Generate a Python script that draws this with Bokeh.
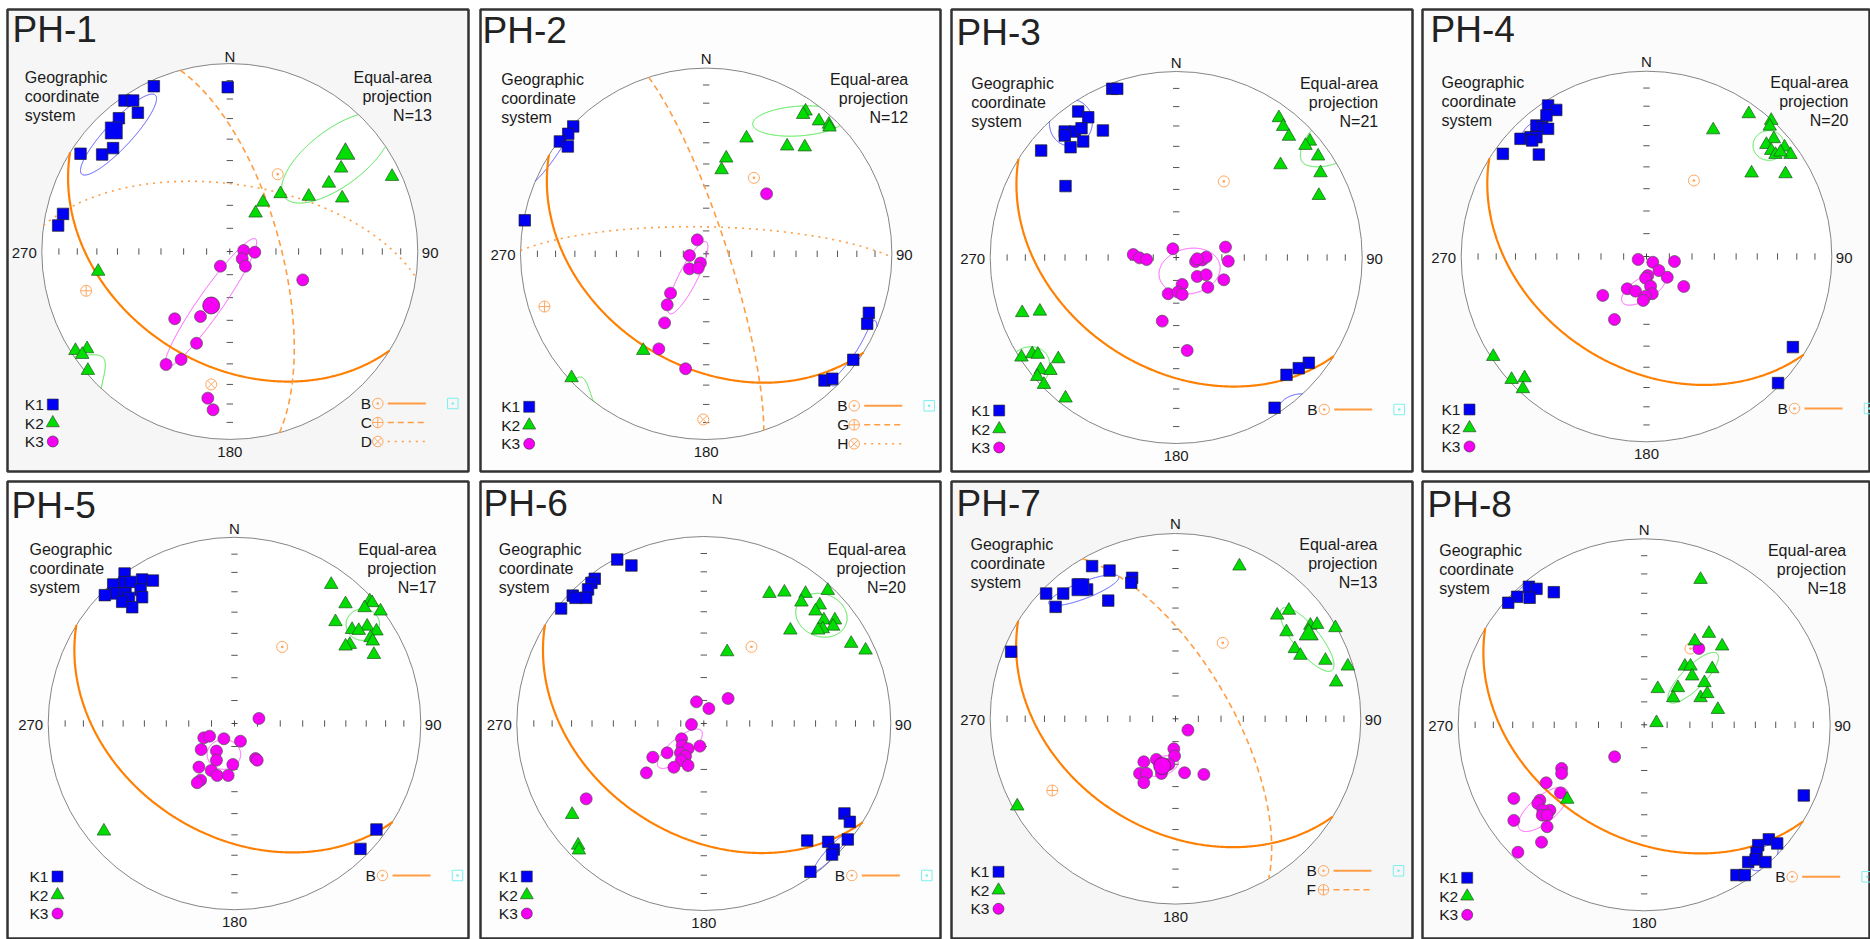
import math
import numpy as np
from bokeh.plotting import figure
from bokeh.layouts import gridplot
from bokeh.models import Range1d
from bokeh.core.properties import value
from bokeh.embed import file_html
from bokeh.resources import INLINE

# ---------------- DATA (equal-area projection, unit = primitive radius; x = east, y = north) ----------------
TITLES = ["PH-1", "PH-2", "PH-3", "PH-4", "PH-5", "PH-6", "PH-7", "PH-8"]
N_COUNTS = [13, 12, 21, 20, 17, 20, 13, 18]

# PH-1
PH1_K1_X = [-0.404, -0.011, -0.560, -0.514, -0.489, -0.590, -0.621, -0.679, -0.794, -0.887, -0.913]
PH1_K1_Y = [0.879, 0.874, 0.803, 0.803, 0.738, 0.709, 0.550, 0.516, 0.520, 0.200, 0.138]
PH1_K2_X = [0.592, 0.527, 0.863, 0.270, 0.420, 0.598, 0.177, 0.137, -0.700, -0.821, -0.759, -0.785, -0.755]
PH1_K2_Y = [0.443, 0.363, 0.399, 0.307, 0.293, 0.284, 0.262, 0.204, -0.106, -0.527, -0.518, -0.548, -0.633]
PH1_K3_X = [0.074, 0.133, 0.066, 0.083, -0.050, 0.388, -0.156, -0.293, -0.177, -0.259, -0.339, -0.117, -0.089]
PH1_K3_Y = [0.005, -0.004, -0.039, -0.078, -0.078, -0.151, -0.346, -0.358, -0.488, -0.574, -0.601, -0.780, -0.842]
PH1_MEAN_X = [-0.617, 0.615, -0.099]
PH1_MEAN_Y = [0.644, 0.520, -0.287]
PH1_ELL_X = [-0.592, 0.57, -0.101]
PH1_ELL_Y = [0.622, 0.50, -0.273]
PH1_ELL_A = [0.287, 0.35, 0.415]
PH1_ELL_B = [0.07, 0.15, 0.065]
PH1_ELL_ANG = [47, 37, 55]
PH1_POLE_NAMES = ["B", "C", "D"]
PH1_POLE_X = [0.255, -0.764, -0.099]
PH1_POLE_Y = [0.411, -0.209, -0.707]

# PH-2
PH2_K1_X = [-0.716, -0.743, -0.788, -0.745, -0.977, 0.876, 0.867, 0.792, 0.637, 0.679]
PH2_K1_Y = [0.686, 0.646, 0.605, 0.578, 0.180, -0.318, -0.377, -0.571, -0.682, -0.673]
PH2_K2_X = [0.535, 0.522, 0.607, 0.661, 0.664, 0.217, 0.436, 0.531, 0.108, 0.083, -0.339, -0.725]
PH2_K2_Y = [0.768, 0.750, 0.715, 0.697, 0.682, 0.623, 0.580, 0.575, 0.515, 0.452, -0.521, -0.668]
PH2_K3_X = [-0.048, -0.090, -0.031, -0.090, -0.043, 0.325, -0.192, -0.210, -0.224, -0.255, -0.111]
PH2_K3_Y = [0.075, -0.009, -0.050, -0.081, -0.077, 0.323, -0.212, -0.275, -0.372, -0.512, -0.619]
PH2_MEAN_X = []
PH2_MEAN_Y = []
PH2_ELL_X = [-0.829, 0.50, -0.099]
PH2_ELL_Y = [0.559, 0.715, -0.129]
PH2_ELL_A = [0.22, 0.25, 0.217]
PH2_ELL_B = [0.035, 0.08, 0.05]
PH2_ELL_ANG = [56, 4, 63]
PH2_POLE_NAMES = ["B", "G", "H"]
PH2_POLE_X = [0.257, -0.871, -0.016]
PH2_POLE_Y = [0.409, -0.284, -0.892]

# PH-3
PH3_K1_X = [-0.344, -0.317, -0.527, -0.473, -0.599, -0.545, -0.509, -0.599, -0.394, -0.500, -0.568, -0.726, -0.595,
            0.713, 0.659, 0.593, 0.529]
PH3_K1_Y = [0.907, 0.907, 0.785, 0.754, 0.677, 0.677, 0.695, 0.656, 0.683, 0.624, 0.593, 0.575, 0.384,
            -0.566, -0.595, -0.631, -0.808]
PH3_K2_X = [0.552, 0.575, 0.606, 0.719, 0.695, 0.763, 0.561, 0.776, 0.767, -0.828, -0.733, -0.832, -0.774, -0.744,
            -0.634, -0.729, -0.676, -0.747, -0.711, -0.595]
PH3_K2_Y = [0.751, 0.704, 0.651, 0.625, 0.602, 0.545, 0.498, 0.455, 0.333, -0.297, -0.289, -0.536, -0.518, -0.521,
            -0.545, -0.604, -0.608, -0.640, -0.683, -0.756]
PH3_K3_X = [-0.231, -0.197, -0.159, -0.018, 0.104, 0.140, 0.161, 0.113, 0.265, 0.280, 0.113, 0.161, 0.256, 0.032,
            0.170, -0.043, 0.009, 0.032, -0.075, 0.059]
PH3_K3_Y = [0.016, -0.002, -0.011, 0.047, -0.022, -0.013, 0.002, -0.007, 0.056, -0.020, -0.102, -0.093, -0.120,
            -0.145, -0.160, -0.195, -0.186, -0.199, -0.342, -0.500]
PH3_MEAN_X = []
PH3_MEAN_Y = []
PH3_ELL_X = [-0.566, -0.80, 0.072]
PH3_ELL_Y = [0.724, -0.60, -0.073]
PH3_ELL_A = [0.125, 0.13, 0.166]
PH3_ELL_B = [0.115, 0.11, 0.121]
PH3_ELL_ANG = [80, 45, 12]
PH3_POLE_NAMES = ["B"]
PH3_POLE_X = [0.256]
PH3_POLE_Y = [0.409]

# PH-4
PH4_K1_X = [-0.531, -0.487, -0.540, -0.594, -0.563, -0.531, -0.680, -0.626, -0.594, -0.617, -0.775, -0.581,
            0.790, 0.710]
PH4_K1_Y = [0.815, 0.791, 0.761, 0.707, 0.698, 0.689, 0.635, 0.644, 0.644, 0.626, 0.554, 0.550, -0.489, -0.683]
PH4_K2_X = [0.552, 0.673, 0.360, 0.665, 0.687, 0.647, 0.745, 0.673, 0.696, 0.777, 0.723, 0.567, 0.750,
            -0.827, -0.728, -0.658, -0.667]
PH4_K2_Y = [0.770, 0.734, 0.683, 0.703, 0.635, 0.604, 0.590, 0.572, 0.550, 0.550, 0.563, 0.450, 0.446,
            -0.540, -0.664, -0.655, -0.714]
PH4_K3_X = [-0.045, 0.034, 0.151, 0.067, 0.112, 0.007, -0.005, 0.022, 0.201, -0.104, -0.059, 0.031, -0.005, -0.018,
            -0.236, -0.173]
PH4_K3_Y = [-0.016, -0.031, -0.027, -0.076, -0.112, -0.103, -0.117, -0.160, -0.162, -0.174, -0.187, -0.201, -0.214,
            -0.237, -0.210, -0.340]
PH4_MEAN_X = []
PH4_MEAN_Y = []
PH4_ELL_X = [-0.617, 0.660, -0.014]
PH4_ELL_Y = [0.671, 0.599, -0.174]
PH4_ELL_A = [0.07, 0.085, 0.137]
PH4_ELL_B = [0.04, 0.08, 0.06]
PH4_ELL_ANG = [45, 0, 32]
PH4_POLE_NAMES = ["B"]
PH4_POLE_X = [0.256]
PH4_POLE_Y = [0.410]

# PH-5
PH5_K1_X = [-0.590, -0.496, -0.438, -0.651, -0.590, -0.558, -0.639, -0.585, -0.504, -0.696, -0.567, -0.496,
            -0.603, -0.549, 0.762, 0.676]
PH5_K1_Y = [0.805, 0.773, 0.767, 0.746, 0.758, 0.760, 0.698, 0.698, 0.719, 0.689, 0.674, 0.678, 0.653, 0.624,
            -0.569, -0.673]
PH5_K2_X = [0.519, 0.726, 0.739, 0.596, 0.698, 0.784, 0.542, 0.712, 0.631, 0.667, 0.762, 0.730, 0.742, 0.619,
            0.596, 0.748, -0.701]
PH5_K2_Y = [0.746, 0.657, 0.648, 0.642, 0.621, 0.603, 0.546, 0.522, 0.504, 0.499, 0.496, 0.460, 0.442, 0.424,
            0.415, 0.370, -0.578]
PH5_K3_X = [0.131, -0.165, -0.134, -0.057, 0.032, -0.179, -0.097, -0.097, 0.113, 0.122, -0.009, -0.191, -0.125,
            -0.093, -0.034, -0.182, -0.200]
PH5_K3_Y = [0.027, -0.077, -0.068, -0.082, -0.095, -0.140, -0.148, -0.197, -0.188, -0.197, -0.220, -0.234, -0.252,
            -0.279, -0.279, -0.304, -0.318]
PH5_MEAN_X = []
PH5_MEAN_Y = []
PH5_ELL_X = [-0.575, 0.689, -0.057]
PH5_ELL_Y = [0.720, 0.531, -0.166]
PH5_ELL_A = [0.06, 0.09, 0.09]
PH5_ELL_B = [0.05, 0.085, 0.08]
PH5_ELL_ANG = [0, 0, 0]
PH5_POLE_NAMES = ["B"]
PH5_POLE_X = [0.256]
PH5_POLE_Y = [0.411]

# PH-6
PH6_K1_X = [-0.463, -0.387, -0.583, -0.601, -0.619, -0.701, -0.686, -0.629, -0.763, 0.752, 0.781, 0.553, 0.665,
            0.770, 0.695, 0.686, 0.570]
PH6_K1_Y = [0.877, 0.845, 0.774, 0.752, 0.717, 0.684, 0.672, 0.672, 0.615, -0.481, -0.526, -0.626, -0.633,
            -0.620, -0.674, -0.701, -0.793]
PH6_K2_X = [0.351, 0.431, 0.544, 0.663, 0.522, 0.620, 0.597, 0.642, 0.701, 0.692, 0.636, 0.611, 0.463, 0.788,
            0.865, 0.125, -0.704, -0.672, -0.668]
PH6_K2_Y = [0.695, 0.702, 0.695, 0.711, 0.649, 0.633, 0.601, 0.553, 0.553, 0.520, 0.506, 0.499, 0.499, 0.428,
            0.392, 0.383, -0.487, -0.651, -0.677]
PH6_K3_X = [0.130, -0.039, 0.027, -0.066, -0.119, -0.116, -0.084, -0.021, -0.196, -0.125, -0.098, -0.273, -0.121,
            -0.160, -0.084, -0.307, -0.629]
PH6_K3_Y = [0.134, 0.116, 0.080, -0.005, -0.082, -0.118, -0.135, -0.121, -0.157, -0.157, -0.175, -0.180, -0.198,
            -0.234, -0.225, -0.264, -0.403]
PH6_MEAN_X = []
PH6_MEAN_Y = []
PH6_ELL_X = [0.677, 0.629, -0.128]
PH6_ELL_Y = [-0.692, 0.579, -0.135]
PH6_ELL_A = [0.13, 0.14, 0.15]
PH6_ELL_B = [0.025, 0.114, 0.055]
PH6_ELL_ANG = [48, -20, 40]
PH6_POLE_NAMES = ["B"]
PH6_POLE_X = [0.255]
PH6_POLE_Y = [0.410]

# PH-7
PH7_K1_X = [-0.450, -0.356, -0.234, -0.239, -0.477, -0.518, -0.698, -0.606, -0.647, -0.363, -0.887]
PH7_K1_Y = [0.824, 0.800, 0.761, 0.734, 0.698, 0.725, 0.676, 0.676, 0.604, 0.638, 0.362]
PH7_K2_X = [0.345, 0.549, 0.612, 0.728, 0.764, 0.863, 0.599, 0.644, 0.674, 0.809, 0.930, 0.867, -0.854]
PH7_K2_Y = [0.824, 0.559, 0.585, 0.504, 0.509, 0.491, 0.469, 0.378, 0.342, 0.315, 0.284, 0.198, -0.471]
PH7_K3_X = [0.067, -0.009, -0.005, -0.103, -0.171, -0.036, -0.076, -0.194, -0.156, 0.049, 0.153, -0.171]
PH7_K3_Y = [-0.061, -0.162, -0.201, -0.219, -0.232, -0.246, -0.295, -0.295, -0.295, -0.291, -0.300, -0.345]
PH7_MEAN_X = [-0.513, 0.719, -0.072]
PH7_MEAN_Y = [0.710, 0.455, -0.255]
PH7_ELL_X = [-0.495, 0.710, -0.072]
PH7_ELL_Y = [0.694, 0.428, -0.255]
PH7_ELL_A = [0.202, 0.214, 0.09]
PH7_ELL_B = [0.045, 0.07, 0.05]
PH7_ELL_ANG = [21, -51, 20]
PH7_POLE_NAMES = ["B", "F"]
PH7_POLE_X = [0.255, -0.665]
PH7_POLE_Y = [0.410, -0.387]

# PH-8
PH8_K1_X = [-0.620, -0.579, -0.486, -0.683, -0.616, -0.731, 0.858, 0.670, 0.715, 0.613, 0.604, 0.559, 0.599,
            0.652, 0.496, 0.541]
PH8_K1_Y = [0.742, 0.731, 0.713, 0.688, 0.683, 0.656, -0.380, -0.616, -0.638, -0.647, -0.688, -0.738, -0.724,
            -0.738, -0.808, -0.808]
PH8_K2_X = [0.303, 0.348, 0.272, 0.419, 0.219, 0.249, 0.366, 0.258, 0.324, 0.073, 0.181, 0.156, 0.303, 0.339,
            0.396, 0.066, -0.414]
PH8_K2_Y = [0.781, 0.491, 0.450, 0.423, 0.315, 0.315, 0.301, 0.262, 0.226, 0.194, 0.199, 0.145, 0.145, 0.167,
            0.082, 0.011, -0.401]
PH8_K3_X = [0.294, -0.159, -0.444, -0.444, -0.527, -0.450, -0.701, -0.561, -0.572, -0.507, -0.545, -0.548,
            -0.522, -0.701, -0.522, -0.552, -0.679]
PH8_K3_Y = [0.410, -0.172, -0.235, -0.262, -0.312, -0.366, -0.396, -0.405, -0.423, -0.459, -0.459, -0.486,
            -0.486, -0.514, -0.548, -0.631, -0.685]
PH8_MEAN_X = []
PH8_MEAN_Y = []
PH8_ELL_X = [0.643, 0.263, -0.543]
PH8_ELL_Y = [-0.715, 0.253, -0.455]
PH8_ELL_A = [0.09, 0.183, 0.165]
PH8_ELL_B = [0.05, 0.06, 0.07]
PH8_ELL_ANG = [40, 45, 40]
PH8_POLE_NAMES = ["B"]
PH8_POLE_X = [0.249]
PH8_POLE_Y = [0.410]

TICK_PLUNGES = [80, 70, 60, 50, 40, 30, 20, 10]

PANEL_DATA = [
    (PH1_K1_X, PH1_K1_Y, PH1_K2_X, PH1_K2_Y, PH1_K3_X, PH1_K3_Y, PH1_MEAN_X, PH1_MEAN_Y,
     PH1_ELL_X, PH1_ELL_Y, PH1_ELL_A, PH1_ELL_B, PH1_ELL_ANG, PH1_POLE_NAMES, PH1_POLE_X, PH1_POLE_Y),
    (PH2_K1_X, PH2_K1_Y, PH2_K2_X, PH2_K2_Y, PH2_K3_X, PH2_K3_Y, PH2_MEAN_X, PH2_MEAN_Y,
     PH2_ELL_X, PH2_ELL_Y, PH2_ELL_A, PH2_ELL_B, PH2_ELL_ANG, PH2_POLE_NAMES, PH2_POLE_X, PH2_POLE_Y),
    (PH3_K1_X, PH3_K1_Y, PH3_K2_X, PH3_K2_Y, PH3_K3_X, PH3_K3_Y, PH3_MEAN_X, PH3_MEAN_Y,
     PH3_ELL_X, PH3_ELL_Y, PH3_ELL_A, PH3_ELL_B, PH3_ELL_ANG, PH3_POLE_NAMES, PH3_POLE_X, PH3_POLE_Y),
    (PH4_K1_X, PH4_K1_Y, PH4_K2_X, PH4_K2_Y, PH4_K3_X, PH4_K3_Y, PH4_MEAN_X, PH4_MEAN_Y,
     PH4_ELL_X, PH4_ELL_Y, PH4_ELL_A, PH4_ELL_B, PH4_ELL_ANG, PH4_POLE_NAMES, PH4_POLE_X, PH4_POLE_Y),
    (PH5_K1_X, PH5_K1_Y, PH5_K2_X, PH5_K2_Y, PH5_K3_X, PH5_K3_Y, PH5_MEAN_X, PH5_MEAN_Y,
     PH5_ELL_X, PH5_ELL_Y, PH5_ELL_A, PH5_ELL_B, PH5_ELL_ANG, PH5_POLE_NAMES, PH5_POLE_X, PH5_POLE_Y),
    (PH6_K1_X, PH6_K1_Y, PH6_K2_X, PH6_K2_Y, PH6_K3_X, PH6_K3_Y, PH6_MEAN_X, PH6_MEAN_Y,
     PH6_ELL_X, PH6_ELL_Y, PH6_ELL_A, PH6_ELL_B, PH6_ELL_ANG, PH6_POLE_NAMES, PH6_POLE_X, PH6_POLE_Y),
    (PH7_K1_X, PH7_K1_Y, PH7_K2_X, PH7_K2_Y, PH7_K3_X, PH7_K3_Y, PH7_MEAN_X, PH7_MEAN_Y,
     PH7_ELL_X, PH7_ELL_Y, PH7_ELL_A, PH7_ELL_B, PH7_ELL_ANG, PH7_POLE_NAMES, PH7_POLE_X, PH7_POLE_Y),
    (PH8_K1_X, PH8_K1_Y, PH8_K2_X, PH8_K2_Y, PH8_K3_X, PH8_K3_Y, PH8_MEAN_X, PH8_MEAN_Y,
     PH8_ELL_X, PH8_ELL_Y, PH8_ELL_A, PH8_ELL_B, PH8_ELL_ANG, PH8_POLE_NAMES, PH8_POLE_X, PH8_POLE_Y),
]

# ---------------- LAYOUT / STYLE ----------------
COL_FRAME_W = [461, 460, 461, 448]
COL_LEFT = [7, 6, 5, 5]
COL_RIGHT = [6, 6, 5, 0]
ROW_FRAME_H = [462, 458]
ROW_TOP = [9, 5]
ROW_BOTTOM = [5, 0]
CENTER_OFF = [(222.3, 242.0), (225.7, 244.3), (224.7, 248.0), (224.0, 247.0),
              (227.0, 242.0), (223.3, 242.0), (224.0, 237.3), (221.7, 243.3)]
RADIUS = [188.0, 185.7, 186.0, 185.3, 186.3, 187.0, 185.3, 186.0]
N_LABEL_OFF = [(0, 195), (0, 195), (0, 195), (0, 195), (0, 195), (13.4, 224.7), (0, 195), (0, 195)]
TITLE_OFF = [(5, 20), (2, 21), (5, 23), (8, 20), (4, 24), (3, 22), (5, 22), (5, 22.5)]
BG = ["#f6f6f6", "#fdfdfd", "#fdfdfd", "#fbfbfb", "#fdfdfd", "#fdfdfd", "#f6f6f6", "#fbfbfb"]

FONT = value("Liberation Sans")
TXT = "#1a1a1a"
C_K = ["#0000f5", "#00dd00", "#f500f5"]
C_ELL = ["#4848ff", "#3ee63e", "#ff4cff"]
MARKERS = ["square", "triangle", "circle"]
SIZES = [11.5, 13.5, 12]
MEAN_SIZES = [17, 19, 17]
ORANGE = "#ff7f00"
ORANGE_L = "#ff9d45"
POLE_C = "#ffa860"
POLE_MARK = ["circle_dot", "circle_cross", "circle_x"]
POLE_DASH = ["solid", "6 4", "2 5"]
POLE_W = [2.2, 1.6, 1.6]


def great_circle(px, py):
    r = math.hypot(px, py)
    vz = -(1.0 - r * r)
    h = math.sqrt(max(0.0, 1.0 - vz * vz))
    n = np.array([px / r * h, py / r * h, vz])
    s = np.array([n[1], -n[0], 0.0])
    s /= np.linalg.norm(s)
    d = np.cross(n, s)
    if d[2] > 0:
        d = -d
    t = np.linspace(0.0, np.pi, 361)
    v = np.outer(np.cos(t), s) + np.outer(np.sin(t), d)
    rr = np.sqrt(np.clip(1.0 + v[:, 2], 0.0, None))
    hh = np.hypot(v[:, 0], v[:, 1])
    hh = np.where(hh < 1e-12, 1.0, hh)
    return rr * v[:, 0] / hh, rr * v[:, 1] / hh


def ellipse_paths(cx, cy, a, b, ang):
    t = np.linspace(0.0, 2 * np.pi, 721)
    c, s = math.cos(math.radians(ang)), math.sin(math.radians(ang))
    x = cx + a * np.cos(t) * c - b * np.sin(t) * s
    y = cy + a * np.cos(t) * s + b * np.sin(t) * c
    r = np.hypot(x, y)
    inside = r <= 1.0
    xi = np.where(inside, x, np.nan)
    yi = np.where(inside, y, np.nan)
    rp = np.sqrt(np.clip(2.0 - r * r, 0.0, None))
    xo = np.where(~inside, -x / r * rp, np.nan)
    yo = np.where(~inside, -y / r * rp, np.nan)
    return (xi, yi), (xo, yo)


def txt(p, x, y, s, size, align="left", baseline="middle", color=TXT):
    p.text(x=[x], y=[y], text=[s], text_font=FONT, text_font_size=size,
           text_align=align, text_baseline=baseline, text_color=color)


def make_panel(i):
    row, col = divmod(i, 4)
    W, H = COL_FRAME_W[col], ROW_FRAME_H[row]
    cxo, cyo = CENTER_OFF[i]
    R = RADIUS[i]
    p = figure(width=COL_LEFT[col] + W + COL_RIGHT[col], height=ROW_TOP[row] + H + ROW_BOTTOM[row],
               x_range=Range1d(-cxo / R, (W - cxo) / R), y_range=Range1d((cyo - H) / R, cyo / R),
               output_backend="svg", toolbar_location=None, title=None,
               x_axis_location=None, y_axis_location=None,
               min_border=0, min_border_left=COL_LEFT[col], min_border_right=COL_RIGHT[col],
               min_border_top=ROW_TOP[row], min_border_bottom=ROW_BOTTOM[row])
    p.grid.visible = False
    p.background_fill_color = BG[i]
    p.border_fill_color = "white"
    p.outline_line_color = "#333333"
    p.outline_line_width = 2.5

    (k1x, k1y, k2x, k2y, k3x, k3y, mx, my, ex, ey, ea, eb, eang, pnames, pxs, pys) = PANEL_DATA[i]
    u = 1.0 / R  # one pixel in data units

    # primitive circle
    p.ellipse(x=[0], y=[0], width=[2], height=[2], fill_color="white", line_color="#858585", line_width=1)

    # ticks at 10 degree plunge intervals on N-S and E-W diameters
    rk = [math.sqrt(1.0 - math.sin(math.radians(pl))) for pl in TICK_PLUNGES]
    L = 3.2 * u
    tx = rk + [-r for r in rk]
    p.segment(x0=tx, y0=[-L] * len(tx), x1=tx, y1=[L] * len(tx), line_color="#555555", line_width=1)
    p.segment(x0=[-L] * len(tx), y0=tx, x1=[L] * len(tx), y1=tx, line_color="#555555", line_width=1)
    p.segment(x0=[-3 * u, 0], y0=[0, -3 * u], x1=[3 * u, 0], y1=[0, 3 * u], line_color="#444444", line_width=1)

    # confidence ellipses
    for k in range(3):
        (xi, yi), (xo, yo) = ellipse_paths(ex[k], ey[k], ea[k], eb[k], eang[k])
        p.line(x=xi, y=yi, line_color=C_ELL[k], line_width=1)
        p.line(x=xo, y=yo, line_color=C_ELL[k], line_width=1)

    # great circles + poles
    for j, name in enumerate(pnames):
        gx, gy = great_circle(pxs[j], pys[j])
        p.line(x=gx, y=gy, line_color=ORANGE if j == 0 else ORANGE_L, line_width=POLE_W[j],
               line_dash=POLE_DASH[j])
        p.scatter(x=[pxs[j]], y=[pys[j]], marker=POLE_MARK[j], size=11, fill_color=None,
                  line_color=POLE_C, line_width=1)

    # AMS principal axes
    p.scatter(x=k3x, y=k3y, marker="circle", size=SIZES[2], fill_color=C_K[2], line_color="#555555", line_width=0.7)
    p.scatter(x=k1x, y=k1y, marker="square", size=SIZES[0], fill_color=C_K[0], line_color="#222222", line_width=0.7)
    p.scatter(x=k2x, y=k2y, marker="triangle", size=SIZES[1], fill_color=C_K[1], line_color="#225522", line_width=0.7)
    for k in range(len(mx)):
        p.scatter(x=[mx[k]], y=[my[k]], marker=MARKERS[k], size=MEAN_SIZES[k], fill_color=C_K[k],
                  line_color="#333333", line_width=0.7)

    # texts
    tox, toy = TITLE_OFF[i]
    txt(p, (tox - cxo) * u, (cyo - toy) * u, TITLES[i], "37px", baseline="middle", color="#222222")
    nx, ny = N_LABEL_OFF[i]
    txt(p, nx * u, ny * u, "N", "15px", align="center")
    txt(p, -(R + 5) * u, -1 * u, "270", "15px", align="right")
    txt(p, (R + 4) * u, -1 * u, "90", "15px", align="left")
    txt(p, 0, -(R + 12.5) * u, "180", "15px", align="center")
    for line_txt, yy in zip(["Geographic", "coordinate", "system"], [174, 155, 136]):
        txt(p, -205 * u, yy * u, line_txt, "16px")
    for line_txt, yy in zip(["Equal-area", "projection", "N=%d" % N_COUNTS[i]], [174, 155, 136]):
        txt(p, 202 * u, yy * u, line_txt, "16px", align="right")

    # left legend
    for k, (lab, yy) in enumerate(zip(["K1", "K2", "K3"], [-153, -171.5, -190])):
        txt(p, -205 * u, yy * u, lab, "15.5px")
        p.scatter(x=[-177 * u], y=[yy * u], marker=MARKERS[k], size=[11, 13, 11][k], fill_color=C_K[k],
                  line_color="#333333", line_width=0.6)

    # right legend
    for j, name in enumerate(pnames):
        yy = [-152, -171, -190][j] * u
        txt(p, 131 * u, yy, name, "15.5px")
        p.scatter(x=[148 * u], y=[yy], marker=POLE_MARK[j], size=10.5, fill_color=None,
                  line_color=POLE_C, line_width=1)
        p.line(x=[158 * u, 196 * u], y=[yy, yy], line_color=ORANGE_L, line_width=POLE_W[j] * 0.9,
               line_dash=POLE_DASH[j])
    p.scatter(x=[223 * u], y=[-152 * u], marker="square_dot", size=10.5, fill_color=None,
              line_color="#7eeeee", line_width=1)
    return p


panels = [make_panel(i) for i in range(8)]
layout = gridplot([panels[:4], panels[4:]], toolbar_location=None)

open("out.html", "w").write(file_html(layout, INLINE))
